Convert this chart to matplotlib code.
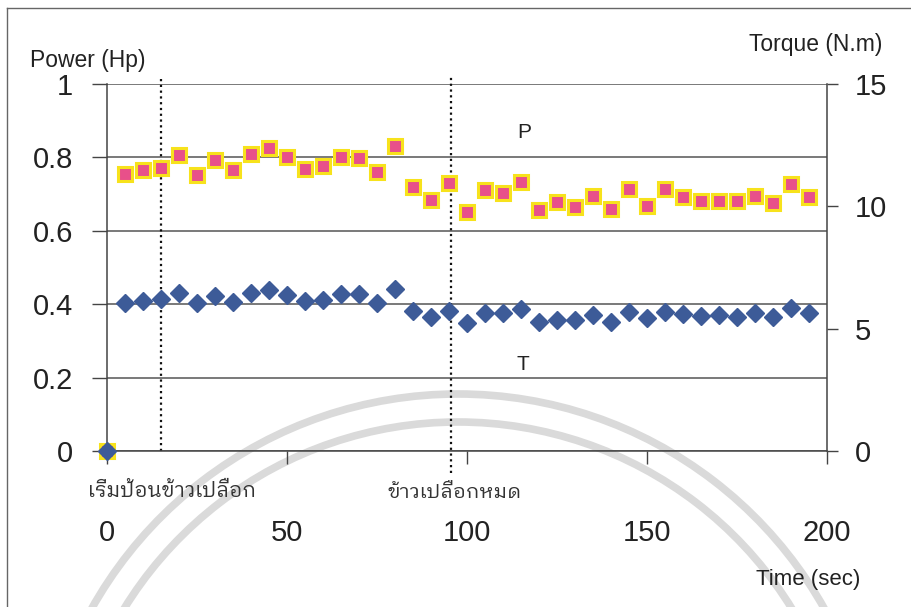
import matplotlib
matplotlib.use("Agg")
import matplotlib.pyplot as plt
from matplotlib import font_manager, ft2font
from matplotlib.lines import Line2D
from matplotlib.patches import Arc

# เวลา (วินาที) และค่าที่อ่านได้จากกราฟ
time_s = [0, 5, 10, 15, 20, 25, 30, 35, 40, 45, 50, 55, 60, 65, 70, 75, 80, 85, 90, 95,
          100, 105, 110, 115, 120, 125, 130, 135, 140, 145, 150, 155, 160, 165, 170, 175,
          180, 185, 190, 195]
power_hp = [0, 0.755, 0.767, 0.772, 0.807, 0.751, 0.792, 0.765, 0.810, 0.825, 0.802,
            0.769, 0.777, 0.800, 0.799, 0.759, 0.830, 0.720, 0.683, 0.729,
            0.650, 0.711, 0.704, 0.732, 0.657, 0.678, 0.666, 0.695, 0.659, 0.713,
            0.668, 0.713, 0.693, 0.681, 0.681, 0.681, 0.696, 0.677, 0.727, 0.691]
torque_nm = [0, 6.06, 6.13, 6.20, 6.47, 6.04, 6.34, 6.09, 6.45, 6.57, 6.38,
             6.13, 6.17, 6.40, 6.40, 6.04, 6.61, 5.72, 5.49, 5.73,
             5.24, 5.65, 5.65, 5.80, 5.28, 5.35, 5.35, 5.56, 5.28, 5.67,
             5.42, 5.69, 5.60, 5.53, 5.56, 5.49, 5.65, 5.49, 5.86, 5.63]

x_ticks = [0, 50, 100, 150, 200]
power_ticks = [0, 0.2, 0.4, 0.6, 0.8, 1]
power_labels = ["0", "0.2", "0.4", "0.6", "0.8", "1"]
torque_ticks = [0, 5, 10, 15]
events = [(15, "เริ่มป้อนข้าวเปลือก"), (95.5, "ข้าวเปลือกหมด")]


def thai_family():
    found = set()
    for f in font_manager.fontManager.ttflist:
        try:
            if 0x0E01 in ft2font.FT2Font(f.fname).get_charmap():
                found.add(f.name)
        except Exception:
            pass
    for pref in ["IBM Plex Sans Thai Looped", "Noto Sans Thai Looped", "Noto Sans Thai"]:
        if pref in found:
            return pref
    return sorted(found)[0] if found else "DejaVu Sans"


thai = thai_family()
plt.rcParams["font.family"] = ["Liberation Sans", thai, "DejaVu Sans"]

W, H = 911, 607
fig = plt.figure(figsize=(W / 100, H / 100), dpi=100)


def px(x, y):
    return x / W, 1 - y / H


# ลายน้ำจาง ๆ ด้านหลัง (วงโค้งสองเส้น)
for r in (420, 392):
    fig.add_artist(Arc((4.58, (H - 814) / 100), 2 * r / 100, 2 * r / 100,
                       theta1=15, theta2=165, transform=fig.dpi_scale_trans,
                       color="#dadada", linewidth=5.5, zorder=0))

ax = fig.add_axes([107 / W, 1 - 451 / H, 720 / W, 367 / H])
ax.set_facecolor("none")
ax.set_xlim(0, 200)
ax.set_ylim(0, 1)
ax.set_xticks(x_ticks)
ax.set_yticks(power_ticks)
ax.set_yticklabels(power_labels)
ax.tick_params(axis="y", direction="out", length=10.5, width=1, color="#444444",
               pad=14, labelsize=21, labelcolor="#222222")
ax.tick_params(axis="x", direction="out", length=9, width=1, color="#444444",
               pad=40, labelsize=21, labelcolor="#222222")
ax.grid(axis="y", color="#555555", linewidth=1.1)
ax.set_axisbelow(True)
for s in ["top", "right"]:
    ax.spines[s].set_visible(False)
for s in ["left", "bottom"]:
    ax.spines[s].set_color("#444444")
    ax.spines[s].set_linewidth(1.1)

ax.plot(time_s, power_hp, linestyle="none", marker="s", markersize=10,
        markerfacecolor="#e8508a", markeredgecolor="#f7e21c", markeredgewidth=2.2,
        clip_on=False, zorder=3)

ax2 = ax.twinx()
ax2.set_ylim(0, 15)
ax2.set_yticks(torque_ticks)
ax2.tick_params(axis="y", direction="out", length=8, width=1, color="#444444",
                pad=12, labelsize=21, labelcolor="#222222")
for s in ["top", "left", "bottom"]:
    ax2.spines[s].set_visible(False)
ax2.spines["right"].set_color("#444444")
ax2.spines["right"].set_linewidth(1.1)
ax2.plot(time_s, torque_nm, linestyle="none", marker="D", markersize=9.5,
         color="#3d5b98", clip_on=False, zorder=4)

# เส้นประแนวตั้งบอกช่วงเวลา
ax.axvline(events[0][0], ymin=0, ymax=1.02, color="#111111", linestyle=(0, (1, 1.6)),
           linewidth=1.6, clip_on=False)
ax.axvline(events[1][0], ymin=-0.06, ymax=1.025, color="#111111", linestyle=(0, (1, 1.6)),
           linewidth=1.6, clip_on=False)

fig.text(*px(88, 491), events[0][1], fontsize=14.8, ha="left", va="center", color="#333333")
fig.text(*px(388, 492), events[1][1], fontsize=14.5, ha="left", va="center", color="#333333")

fig.text(*px(30, 60), "Power (Hp)", fontsize=16.5, ha="left", va="center", color="#222222")
fig.text(*px(882, 45), "Torque (N.m)", fontsize=16.5, ha="right", va="center", color="#222222")
fig.text(*px(860, 580), "Time (sec)", fontsize=16, ha="right", va="center", color="#222222")
fig.text(*px(524, 133), "P", fontsize=15, ha="center", va="center", color="#222222")
fig.text(*px(523, 365), "T", fontsize=15, ha="center", va="center", color="#222222")

# กรอบรอบรูป
fig.add_artist(Line2D([7 / W, 7 / W], [0, 1 - 8 / H], color="#666666", linewidth=1))
fig.add_artist(Line2D([7 / W, 1], [1 - 8 / H, 1 - 8 / H], color="#666666", linewidth=1))

fig.savefig("out.png", dpi=100)
